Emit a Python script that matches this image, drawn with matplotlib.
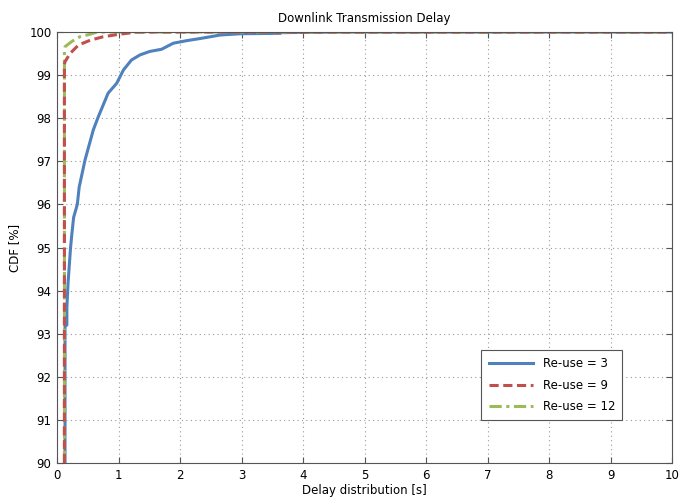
import matplotlib.pyplot as plt

# Re-use = 3
reuse3_x = [0.13, 0.13, 0.16, 0.16, 0.18, 0.20, 0.22, 0.24, 0.27, 0.29, 0.33, 0.36,
            0.455, 0.59, 0.67, 0.83, 0.97, 1.08, 1.21, 1.35, 1.51, 1.70, 1.89,
            2.11, 2.33, 2.65, 2.98, 3.63, 3.63, 4.55, 10.0]
reuse3_y = [90.0, 93.2, 93.2, 93.6, 94.2, 94.6, 95.0, 95.3, 95.7, 95.8, 96.0, 96.4,
            97.03, 97.73, 98.03, 98.58, 98.81, 99.12, 99.35, 99.47, 99.55, 99.60,
            99.74, 99.80, 99.85, 99.93, 99.96, 99.97, 99.985, 100.0, 100.0]

# Re-use = 9
reuse9_x = [0.12, 0.12, 0.13, 0.21, 0.35, 0.54, 0.75, 1.02, 1.3, 10.0]
reuse9_y = [90.0, 99.25, 99.31, 99.50, 99.70, 99.81, 99.89, 99.95, 100.0, 100.0]

# Re-use = 12
reuse12_x = [0.12, 0.12, 0.13, 0.24, 0.37, 0.54, 0.65, 10.0]
reuse12_y = [90.0, 99.6, 99.66, 99.78, 99.89, 99.95, 100.0, 100.0]

x_ticks = list(range(0, 11))
y_ticks = list(range(90, 101))

plt.rcParams["font.family"] = ["DejaVu Sans"]
plt.rcParams["font.size"] = 8.5

fig = plt.figure(figsize=(6.79, 4.98), dpi=100)
fig.patch.set_facecolor("white")
ax = fig.add_axes([0.084, 0.0703, 0.9057, 0.8654])

ax.plot(reuse3_x, reuse3_y, color="#4F81BD", linewidth=2.2, label="Re-use = 3",
        zorder=2)
ax.plot(reuse9_x, reuse9_y, color="#C0504D", linewidth=2.2, linestyle="--",
        dashes=(3, 1.5), label="Re-use = 9", zorder=4)
ax.plot(reuse12_x, reuse12_y, color="#9BBB59", linewidth=2.2,
        dashes=(4, 1.5, 1, 1.5), label="Re-use = 12", zorder=3)

ax.set_xlim(0, 10)
ax.set_ylim(90, 100)
ax.set_xticks(x_ticks)
ax.set_yticks(y_ticks)
ax.grid(True, linestyle=(0, (1, 3)), color="#999999", linewidth=0.8)
ax.tick_params(direction="in", top=True, right=True, length=4, color="#555555",
               labelsize=8.5, pad=4)
for spine in ax.spines.values():
    spine.set_color("#555555")
    spine.set_zorder(5)

ax.set_title("Downlink Transmission Delay", fontsize=8.5, pad=7)
ax.set_xlabel("Delay distribution [s]", fontsize=8.5, labelpad=2)
ax.set_ylabel("CDF [%]", fontsize=8.5, labelpad=6)

leg = ax.legend(loc="lower right", bbox_to_anchor=(0.929, 0.086), fontsize=8.5,
                fancybox=False, framealpha=1, edgecolor="#555555",
                handlelength=3.8, borderpad=0.6, labelspacing=0.7)
leg.get_frame().set_linewidth(0.8)
leg.set_zorder(6)

fig.savefig("out.png", dpi=100)
